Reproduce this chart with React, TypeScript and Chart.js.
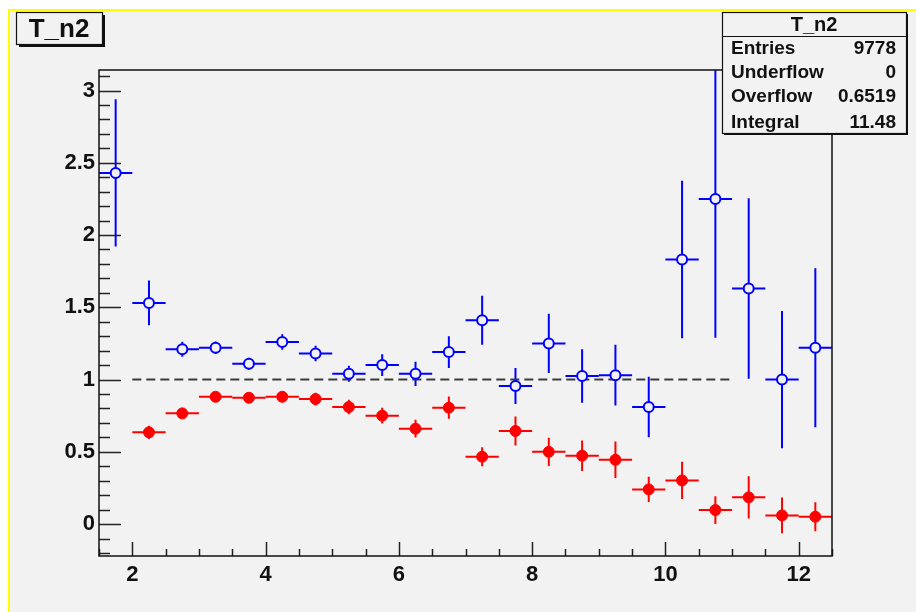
import React, { useEffect, useRef } from "react";
import { Chart, registerables } from "chart.js";

Chart.register(...registerables);

// Histogram bins (centres), width 0.5
const binCenters = [
  1.75, 2.25, 2.75, 3.25, 3.75, 4.25, 4.75, 5.25, 5.75, 6.25, 6.75,
  7.25, 7.75, 8.25, 8.75, 9.25, 9.75, 10.25, 10.75, 11.25, 11.75, 12.25,
];
const binHalfWidth = 0.25;

// Open blue markers
const ratioOpen = [
  2.43, 1.53, 1.21, 1.22, 1.11, 1.26, 1.18, 1.04, 1.1, 1.04, 1.19,
  1.41, 0.955, 1.25, 1.025, 1.03, 0.81, 1.83, 2.25, 1.63, 1.0, 1.22,
];
const ratioOpenErr = [
  0.51, 0.155, 0.052, 0.044, 0.04, 0.054, 0.054, 0.055, 0.075, 0.084, 0.11,
  0.17, 0.125, 0.205, 0.185, 0.21, 0.21, 0.545, 0.96, 0.625, 0.475, 0.55,
];

// Filled red markers (first bin empty)
const ratioFilled = [
  null, 0.635, 0.766, 0.881, 0.874, 0.881, 0.865, 0.81, 0.75, 0.66, 0.805,
  0.466, 0.644, 0.5, 0.473, 0.445, 0.24, 0.302, 0.097, 0.185, 0.06, 0.051,
];
const ratioFilledErr = [
  null, 0.046, 0.03, 0.03, 0.03, 0.035, 0.044, 0.05, 0.054, 0.061, 0.077,
  0.066, 0.1, 0.098, 0.106, 0.127, 0.088, 0.129, 0.096, 0.146, 0.123, 0.1,
];

// Reference line at ratio = 1
const refLineX = [2, 11];
const refLineY = 1;

// Axes
const xRange = [1.5, 12.5];
const yRange = [-0.221, 3.142];
const xMajorTicks = [2, 4, 6, 8, 10, 12];
const xMinorStep = 0.5;
const yMajorTicks = [0, 0.5, 1, 1.5, 2, 2.5, 3];
const yMinorStep = 0.1;

// Text boxes
const histName = "T_n2";
const statsLabels = ["Entries", "Underflow", "Overflow", "Integral"];
const statsValues = ["9778", "0", "0.6519", "11.48"];

const BG = "#f2f2f2";
const FONT = "'Liberation Sans', Arial, Helvetica, sans-serif";

const rootStyle = {
  id: "rootStyle",
  beforeDatasetsDraw(chart: any) {
    const { ctx, chartArea: a, scales } = chart;
    const xs = scales.x;
    const ys = scales.y;
    ctx.save();
    ctx.beginPath();
    ctx.rect(a.left, a.top, a.right - a.left, a.bottom - a.top);
    ctx.clip();
    ctx.lineWidth = 2;
    const drawErr = (vals: any[], errs: any[], color: string) => {
      ctx.strokeStyle = color;
      vals.forEach((v, i) => {
        if (v === null) return;
        const cx = xs.getPixelForValue(binCenters[i]);
        const cy = ys.getPixelForValue(v);
        const x0 = xs.getPixelForValue(binCenters[i] - binHalfWidth);
        const x1 = xs.getPixelForValue(binCenters[i] + binHalfWidth);
        const y0 = ys.getPixelForValue(v + errs[i]);
        const y1 = ys.getPixelForValue(v - errs[i]);
        ctx.beginPath();
        ctx.moveTo(x0, cy);
        ctx.lineTo(x1, cy);
        ctx.moveTo(cx, y0);
        ctx.lineTo(cx, y1);
        ctx.stroke();
      });
    };
    drawErr(ratioFilled, ratioFilledErr, "#ff0000");
    drawErr(ratioOpen, ratioOpenErr, "#0000ff");
    ctx.restore();
  },
  afterDatasetsDraw(chart: any) {
    const { ctx, chartArea: a, scales } = chart;
    const xs = scales.x;
    const ys = scales.y;
    ctx.save();
    ctx.strokeStyle = "#222";
    ctx.lineWidth = 1.5;
    // y ticks (inside, from left edge)
    const yStart = Math.ceil(yRange[0] / yMinorStep);
    const yEnd = Math.floor(yRange[1] / yMinorStep);
    for (let k = yStart; k <= yEnd; k++) {
      const v = k * yMinorStep;
      const major = yMajorTicks.some((m) => Math.abs(m - v) < 1e-6);
      const py = Math.round(ys.getPixelForValue(v)) + 0.5;
      ctx.beginPath();
      ctx.moveTo(a.left, py);
      ctx.lineTo(a.left + (major ? 22 : 11), py);
      ctx.stroke();
    }
    // x ticks (inside, from bottom edge)
    const xStart = Math.ceil(xRange[0] / xMinorStep);
    const xEnd = Math.floor(xRange[1] / xMinorStep);
    for (let k = xStart; k <= xEnd; k++) {
      const v = k * xMinorStep;
      const major = xMajorTicks.some((m) => Math.abs(m - v) < 1e-6);
      const px = Math.round(xs.getPixelForValue(v)) + 0.5;
      ctx.beginPath();
      ctx.moveTo(px, a.bottom);
      ctx.lineTo(px, a.bottom - (major ? 14 : 7));
      ctx.stroke();
    }
    // frame
    ctx.strokeStyle = "#111";
    ctx.lineWidth = 1.5;
    ctx.strokeRect(a.left, a.top, a.right - a.left, a.bottom - a.top);
    ctx.restore();
  },
  afterDraw(chart: any) {
    const { ctx } = chart;
    ctx.save();
    // title box
    const tb = { x: 6, y: 1, w: 86, h: 32 };
    ctx.fillStyle = "#111";
    ctx.fillRect(tb.x + 3, tb.y + 3, tb.w, tb.h);
    ctx.fillStyle = BG;
    ctx.fillRect(tb.x, tb.y, tb.w, tb.h);
    ctx.strokeStyle = "#111";
    ctx.lineWidth = 1.2;
    ctx.strokeRect(tb.x + 0.5, tb.y + 0.5, tb.w, tb.h);
    ctx.fillStyle = "#111";
    ctx.font = `bold 26px ${FONT}`;
    ctx.textAlign = "center";
    ctx.textBaseline = "alphabetic";
    ctx.fillText(histName, tb.x + tb.w / 2, 26);

    // statistics box
    const sb = { x: 712, y: 1, w: 184, h: 121 };
    ctx.fillStyle = "#111";
    ctx.fillRect(sb.x + 2, sb.y + 2, sb.w, sb.h);
    ctx.fillStyle = BG;
    ctx.fillRect(sb.x, sb.y, sb.w, sb.h);
    ctx.strokeStyle = "#111";
    ctx.lineWidth = 1.2;
    ctx.strokeRect(sb.x + 0.5, sb.y + 0.5, sb.w, sb.h);
    ctx.beginPath();
    ctx.moveTo(sb.x, 25.5);
    ctx.lineTo(sb.x + sb.w, 25.5);
    ctx.stroke();
    ctx.fillStyle = "#111";
    ctx.font = `bold 20px ${FONT}`;
    ctx.textAlign = "center";
    ctx.fillText(histName, sb.x + sb.w / 2, 20);
    ctx.font = `bold 19px ${FONT}`;
    const baselines = [42.5, 66.5, 90.5, 117];
    statsLabels.forEach((lab, i) => {
      ctx.textAlign = "left";
      ctx.fillText(lab, 721, baselines[i]);
      ctx.textAlign = "right";
      ctx.fillText(statsValues[i], 886, baselines[i]);
    });
    ctx.restore();
  },
};

export default function App() {
  const ref = useRef<HTMLCanvasElement | null>(null);

  useEffect(() => {
    if (!ref.current) return;
    const openPts = binCenters.map((x, i) => ({ x, y: ratioOpen[i] }));
    const filledPts = binCenters
      .map((x, i) => ({ x, y: ratioFilled[i] }))
      .filter((p) => p.y !== null);
    const tickFont = { family: FONT, size: 22, weight: "bold" as const };

    const chart = new Chart(ref.current, {
      type: "scatter",
      data: {
        datasets: [
          {
            label: "ref",
            type: "line",
            data: refLineX.map((x) => ({ x, y: refLineY })),
            borderColor: "#3a3a3a",
            borderWidth: 2,
            borderDash: [9, 5],
            pointRadius: 0,
            order: 3,
          } as any,
          {
            label: "filled",
            data: filledPts,
            pointStyle: "circle",
            pointRadius: 5.5,
            pointBackgroundColor: "#ff0000",
            pointBorderColor: "#ff0000",
            pointBorderWidth: 1,
            order: 2,
          },
          {
            label: "open",
            data: openPts,
            pointStyle: "circle",
            pointRadius: 5,
            pointBackgroundColor: BG,
            pointBorderColor: "#0000ff",
            pointBorderWidth: 2,
            order: 1,
          },
        ],
      },
      options: {
        animation: false,
        responsive: false,
        events: [],
        layout: { padding: { left: 0, top: 59, right: 84, bottom: 0 } },
        plugins: { legend: { display: false }, tooltip: { enabled: false } },
        scales: {
          x: {
            type: "linear",
            min: xRange[0],
            max: xRange[1],
            afterBuildTicks: (s: any) => {
              s.ticks = xMajorTicks.map((v) => ({ value: v }));
            },
            afterFit: (s: any) => {
              s.height = 56;
            },
            grid: { display: false, drawTicks: false },
            border: { display: false },
            ticks: {
              font: tickFont,
              color: "#111",
              padding: 6,
              maxRotation: 0,
              autoSkip: false,
              callback: (v: any) => String(v),
            },
          },
          y: {
            type: "linear",
            min: yRange[0],
            max: yRange[1],
            afterBuildTicks: (s: any) => {
              s.ticks = yMajorTicks.map((v) => ({ value: v }));
            },
            afterFit: (s: any) => {
              s.width = 89;
            },
            grid: { display: false, drawTicks: false },
            border: { display: false },
            ticks: {
              font: tickFont,
              color: "#111",
              padding: 4,
              autoSkip: false,
              callback: (v: any) => String(v),
            },
          },
        },
      },
      plugins: [rootStyle],
    });
    return () => chart.destroy();
  }, []);

  return (
    <div
      style={{
        position: "fixed",
        left: 8,
        top: 9,
        width: 906,
        height: 601,
        borderTop: "2px solid #ffff00",
        borderLeft: "2px solid #ffff00",
        background: BG,
      }}
    >
      <canvas ref={ref} width={906} height={601} style={{ display: "block" }} />
    </div>
  );
}
